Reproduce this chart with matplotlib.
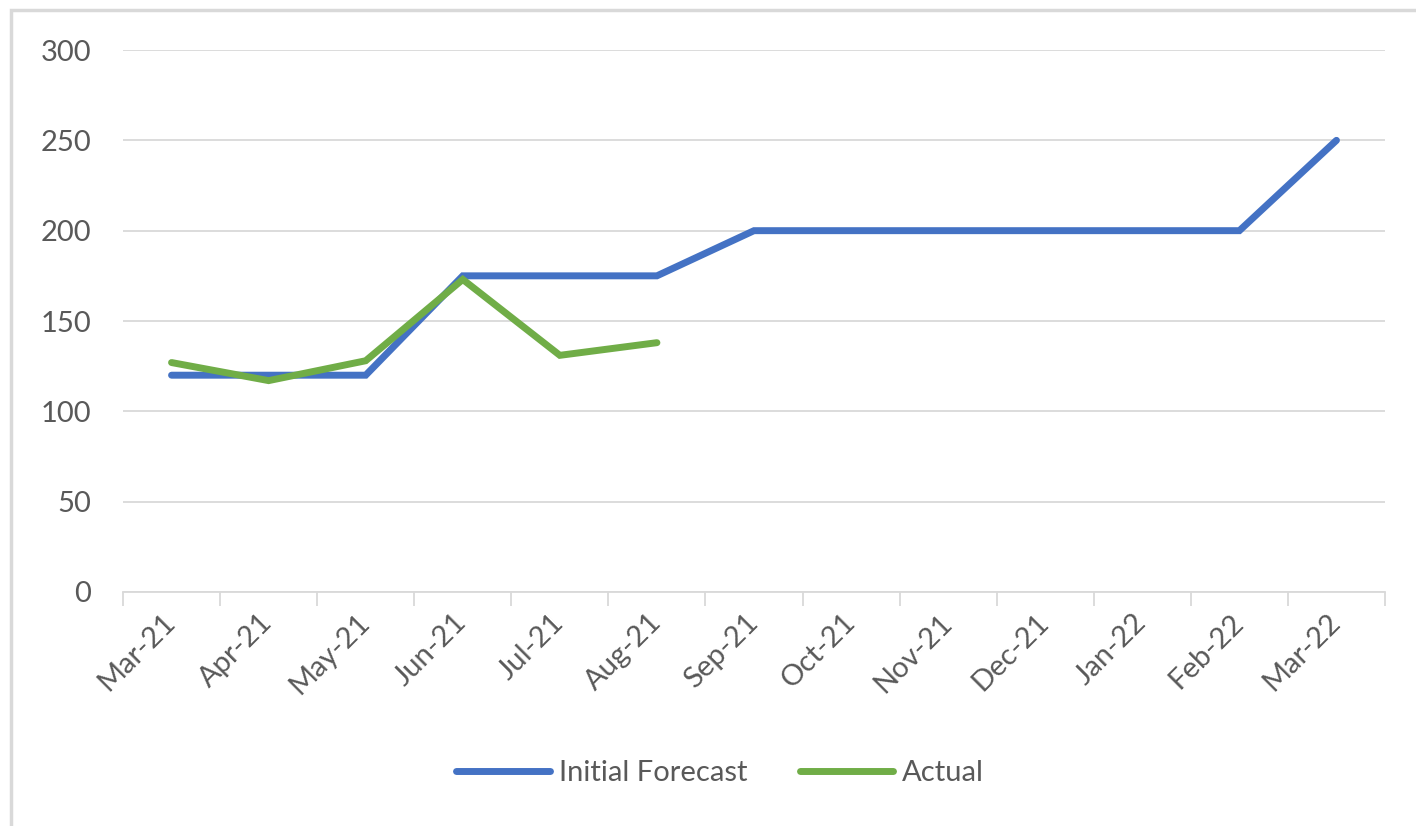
import matplotlib.pyplot as plt
from matplotlib.patches import Rectangle

months = ['Mar-21', 'Apr-21', 'May-21', 'Jun-21', 'Jul-21', 'Aug-21', 'Sep-21',
          'Oct-21', 'Nov-21', 'Dec-21', 'Jan-22', 'Feb-22', 'Mar-22']
forecast = [120, 120, 120, 175, 175, 175, 200, 200, 200, 200, 200, 200, 250]
actual = [127, 117, 128, 173, 131, 138]

plt.rcParams['font.family'] = ['Lato', 'DejaVu Sans']
text_grey = '#595959'

fig = plt.figure(figsize=(14.16, 8.26), dpi=100)
ax = fig.add_axes([123 / 1416, 1 - 592 / 826, (1385 - 123) / 1416, (592 - 50) / 826])

# chart area border (only left and top edges visible in the crop)
fig.patches.append(Rectangle((11 / 1416, -20 / 826), 1440 / 1416, 836 / 826,
                             transform=fig.transFigure, fill=False,
                             edgecolor='#D9D9D9', linewidth=2.5))

x = list(range(len(months)))
ax.plot(x, forecast, color='#4472C4', lw=5, solid_capstyle='round',
        solid_joinstyle='miter', label='Initial Forecast')
ax.plot(x[:len(actual)], actual, color='#70AD47', lw=5, solid_capstyle='round',
        solid_joinstyle='miter', label='Actual')

ax.set_xlim(-0.5, len(months) - 0.5)
ax.set_ylim(0, 300)
ax.set_yticks(range(0, 301, 50))
ax.yaxis.grid(True, color='#D9D9D9', lw=1.3)
ax.set_axisbelow(True)

for s in ['top', 'right', 'left']:
    ax.spines[s].set_visible(False)
ax.spines['bottom'].set_color('#D9D9D9')
ax.spines['bottom'].set_linewidth(1.3)

ax.set_xticks(x)
ax.set_xticklabels(months, rotation=45, ha='right', va='center',
                   rotation_mode='anchor')
ax.set_xticks([i - 0.5 for i in range(len(months) + 1)], minor=True)
ax.tick_params(axis='x', which='major', length=0, pad=19, labelsize=21,
               labelcolor=text_grey)
ax.tick_params(axis='x', which='minor', length=10, width=1.3, color='#D9D9D9')
ax.tick_params(axis='y', length=0, pad=23, labelsize=21, labelcolor=text_grey)

leg = fig.legend(loc='center', bbox_to_anchor=(720 / 1416, 1 - 773 / 826),
                 ncol=2, frameon=False, fontsize=21, handlelength=3.2,
                 handletextpad=0.3, columnspacing=1.8)
for t in leg.get_texts():
    t.set_color(text_grey)

fig.savefig('out.png', dpi=100)
